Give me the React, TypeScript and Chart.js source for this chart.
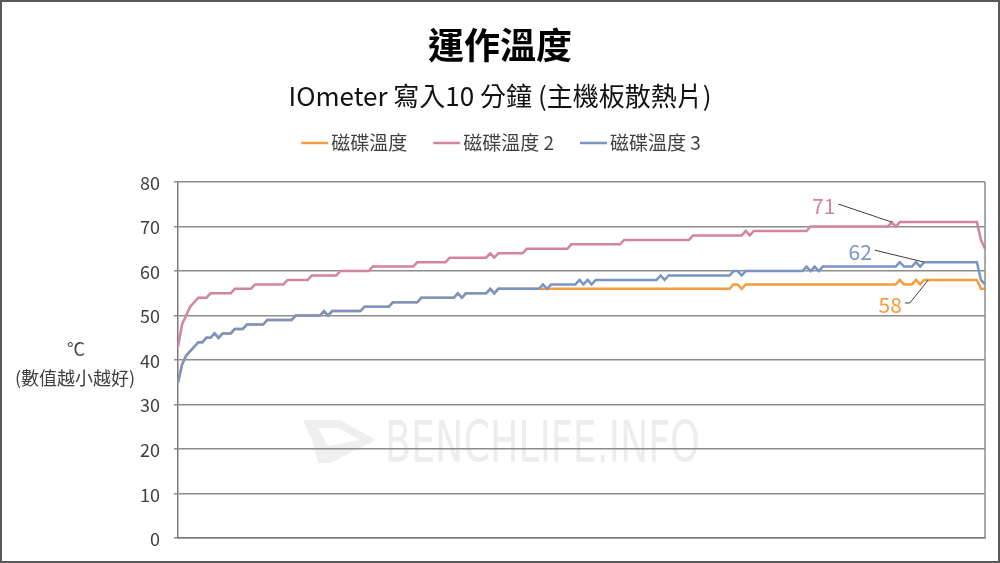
import React, { useEffect, useRef } from "react";
import { Chart, registerables } from "chart.js";

Chart.register(...registerables);

const TITLE = "運作溫度";
const SUBTITLE = "IOmeter 寫入10 分鐘 (主機板散熱片)";
const SERIES_NAMES = ["磁碟溫度", "磁碟溫度 2", "磁碟溫度 3"];
const SERIES_COLORS = ["#F79B3C", "#D4849C", "#7895C3"];
const Y_TITLE = ["°C", "(數值越小越好)"];
const Y_TICKS = [0, 10, 20, 30, 40, 50, 60, 70, 80];
const WATERMARK = "BENCHLIFE.INFO";

// 磁碟溫度 (orange)
const diskTemp1 = [
  35, 39, 41, 42, 43, 44, 44, 45, 45, 46,
  45, 46, 46, 46, 47, 47, 47, 48, 48, 48,
  48, 48, 49, 49, 49, 49, 49, 49, 49, 50,
  50, 50, 50, 50, 50, 50, 51, 50, 51, 51,
  51, 51, 51, 51, 51, 51, 52, 52, 52, 52,
  52, 52, 52, 53, 53, 53, 53, 53, 53, 53,
  54, 54, 54, 54, 54, 54, 54, 54, 54, 55,
  54, 55, 55, 55, 55, 55, 55, 56, 55, 56,
  56, 56, 56, 56, 56, 56, 56, 56, 56, 56,
  56, 56, 56, 56, 56, 56, 56, 56, 56, 56,
  56, 56, 56, 56, 56, 56, 56, 56, 56, 56,
  56, 56, 56, 56, 56, 56, 56, 56, 56, 56,
  56, 56, 56, 56, 56, 56, 56, 56, 56, 56,
  56, 56, 56, 56, 56, 56, 56, 57, 57, 56,
  57, 57, 57, 57, 57, 57, 57, 57, 57, 57,
  57, 57, 57, 57, 57, 57, 57, 57, 57, 57,
  57, 57, 57, 57, 57, 57, 57, 57, 57, 57,
  57, 57, 57, 57, 57, 57, 57, 57, 58, 57,
  57, 57, 58, 57, 58, 58, 58, 58, 58, 58,
  58, 58, 58, 58, 58, 58, 58, 58, 56, 56,
];

// 磁碟溫度 2 (pink)
const diskTemp2 = [
  43, 48, 50, 52, 53, 54, 54, 54, 55, 55,
  55, 55, 55, 55, 56, 56, 56, 56, 56, 57,
  57, 57, 57, 57, 57, 57, 57, 58, 58, 58,
  58, 58, 58, 59, 59, 59, 59, 59, 59, 59,
  60, 60, 60, 60, 60, 60, 60, 60, 61, 61,
  61, 61, 61, 61, 61, 61, 61, 61, 61, 62,
  62, 62, 62, 62, 62, 62, 62, 63, 63, 63,
  63, 63, 63, 63, 63, 63, 63, 64, 63, 64,
  64, 64, 64, 64, 64, 64, 65, 65, 65, 65,
  65, 65, 65, 65, 65, 65, 65, 66, 66, 66,
  66, 66, 66, 66, 66, 66, 66, 66, 66, 66,
  67, 67, 67, 67, 67, 67, 67, 67, 67, 67,
  67, 67, 67, 67, 67, 67, 67, 68, 68, 68,
  68, 68, 68, 68, 68, 68, 68, 68, 68, 68,
  69, 68, 69, 69, 69, 69, 69, 69, 69, 69,
  69, 69, 69, 69, 69, 69, 70, 70, 70, 70,
  70, 70, 70, 70, 70, 70, 70, 70, 70, 70,
  70, 70, 70, 70, 70, 70, 71, 70, 71, 71,
  71, 71, 71, 71, 71, 71, 71, 71, 71, 71,
  71, 71, 71, 71, 71, 71, 71, 71, 67, 65,
];

// 磁碟溫度 3 (blue)
const diskTemp3 = [
  35, 39, 41, 42, 43, 44, 44, 45, 45, 46,
  45, 46, 46, 46, 47, 47, 47, 48, 48, 48,
  48, 48, 49, 49, 49, 49, 49, 49, 49, 50,
  50, 50, 50, 50, 50, 50, 51, 50, 51, 51,
  51, 51, 51, 51, 51, 51, 52, 52, 52, 52,
  52, 52, 52, 53, 53, 53, 53, 53, 53, 53,
  54, 54, 54, 54, 54, 54, 54, 54, 54, 55,
  54, 55, 55, 55, 55, 55, 55, 56, 55, 56,
  56, 56, 56, 56, 56, 56, 56, 56, 56, 56,
  57, 56, 57, 57, 57, 57, 57, 57, 57, 58,
  57, 58, 57, 58, 58, 58, 58, 58, 58, 58,
  58, 58, 58, 58, 58, 58, 58, 58, 58, 59,
  58, 59, 59, 59, 59, 59, 59, 59, 59, 59,
  59, 59, 59, 59, 59, 59, 59, 60, 60, 59,
  60, 60, 60, 60, 60, 60, 60, 60, 60, 60,
  60, 60, 60, 60, 60, 61, 60, 61, 60, 61,
  61, 61, 61, 61, 61, 61, 61, 61, 61, 61,
  61, 61, 61, 61, 61, 61, 61, 61, 62, 61,
  61, 61, 62, 61, 62, 62, 62, 62, 62, 62,
  62, 62, 62, 62, 62, 62, 62, 62, 58, 57,
];

const sampleLabels = diskTemp1.map((_, i) => String(i + 1));

// callouts: series index, sample index, label text, label offset (px) from the point
const CALLOUT_SERIES = [1, 2, 0];
const CALLOUT_INDEX = [176, 184, 185];
const CALLOUT_TEXT = ["71", "62", "58"];
const CALLOUT_DX = [-68, -64, -38];
const CALLOUT_DY = [-17, -11, 24];

const FONT = "'Noto Sans CJK TC', 'Noto Sans', sans-serif";
const TEXT_COLOR = "#404040";

const decoPlugin = {
  id: "deco",
  beforeDraw(chart: any) {
    const { ctx, width, height } = chart;
    ctx.save();
    ctx.fillStyle = "#ffffff";
    ctx.fillRect(0, 0, width, height);

    // watermark logo
    ctx.fillStyle = "#efefef";
    ctx.beginPath();
    ctx.moveTo(303, 420);
    ctx.lineTo(340, 420);
    ctx.lineTo(376, 440);
    ctx.lineTo(330, 463);
    ctx.lineTo(318, 463);
    ctx.lineTo(312, 440);
    ctx.closePath();
    ctx.fill();
    ctx.fillStyle = "#ffffff";
    ctx.beginPath();
    ctx.moveTo(318, 428);
    ctx.lineTo(338, 428);
    ctx.lineTo(360, 440);
    ctx.lineTo(328, 446);
    ctx.closePath();
    ctx.fill();

    // watermark text
    ctx.fillStyle = "#ededed";
    ctx.font = "57px 'DejaVu Sans Condensed', 'DejaVu Sans', sans-serif";
    ctx.textAlign = "left";
    ctx.textBaseline = "alphabetic";
    const w = ctx.measureText(WATERMARK).width;
    ctx.translate(385, 462);
    ctx.scale(315 / w, 1);
    ctx.fillText(WATERMARK, 0, 0);
    ctx.restore();
  },
  afterDatasetsDraw(chart: any) {
    const { ctx } = chart;
    const xs = chart.scales.x;
    const ys = chart.scales.y;
    const seriesData = [diskTemp1, diskTemp2, diskTemp3];
    ctx.save();
    for (let k = 0; k < CALLOUT_TEXT.length; k++) {
      const s = CALLOUT_SERIES[k];
      const idx = CALLOUT_INDEX[k];
      const px = xs.getPixelForValue(idx);
      const py = ys.getPixelForValue(seriesData[s][idx]);
      const tx = px + CALLOUT_DX[k];
      const ty = py + CALLOUT_DY[k];
      ctx.font = `21px ${FONT}`;
      const tw = ctx.measureText(CALLOUT_TEXT[k]).width;
      // leader line
      ctx.strokeStyle = "#404040";
      ctx.lineWidth = 1;
      ctx.beginPath();
      const sx = tx + tw / 2 + 3;
      ctx.moveTo(sx, ty - 1);
      if (CALLOUT_DY[k] > 0) {
        ctx.lineTo(sx + 5, ty - 1);
      }
      ctx.lineTo(px, py);
      ctx.stroke();
      ctx.fillStyle = SERIES_COLORS[s];
      ctx.textAlign = "center";
      ctx.textBaseline = "middle";
      ctx.fillText(CALLOUT_TEXT[k], tx, ty + 1);
    }
    ctx.restore();
  },
  afterDraw(chart: any) {
    const { ctx, width, height, chartArea } = chart;
    ctx.save();
    // right frame of plot
    ctx.strokeStyle = "#8c8c8c";
    ctx.lineWidth = 1.5;
    ctx.beginPath();
    ctx.moveTo(chartArea.right, chartArea.top);
    ctx.lineTo(chartArea.right, chartArea.bottom);
    ctx.stroke();

    // title
    ctx.fillStyle = "#000000";
    ctx.textAlign = "center";
    ctx.textBaseline = "middle";
    ctx.font = `bold 36px ${FONT}`;
    ctx.fillText(TITLE, 500, 45);
    ctx.fillStyle = "#111111";
    ctx.font = `26px ${FONT}`;
    ctx.fillText(SUBTITLE, 500, 96);

    // legend
    ctx.font = `19px ${FONT}`;
    const lineLen = 27;
    const gapAfterLine = 3;
    const itemGap = 26;
    const widths = SERIES_NAMES.map((n) => ctx.measureText(n).width);
    const total =
      widths.reduce((a, b) => a + b + lineLen + gapAfterLine, 0) +
      itemGap * (SERIES_NAMES.length - 1);
    let x = 501 - total / 2;
    const ly = 143;
    ctx.textAlign = "left";
    for (let i = 0; i < SERIES_NAMES.length; i++) {
      ctx.strokeStyle = SERIES_COLORS[i];
      ctx.lineWidth = 2.5;
      ctx.beginPath();
      ctx.moveTo(x, ly);
      ctx.lineTo(x + lineLen, ly);
      ctx.stroke();
      ctx.fillStyle = TEXT_COLOR;
      ctx.fillText(SERIES_NAMES[i], x + lineLen + gapAfterLine, ly);
      x += lineLen + gapAfterLine + widths[i] + itemGap;
    }

    // y axis title
    ctx.textAlign = "center";
    ctx.font = `18px ${FONT}`;
    ctx.fillStyle = TEXT_COLOR;
    ctx.fillText(Y_TITLE[0], 76, 349);
    ctx.fillText(Y_TITLE[1], 75, 378);

    // outer frame
    ctx.strokeStyle = "#595959";
    ctx.lineWidth = 2;
    ctx.strokeRect(1, 1, width - 2, height - 2);
    ctx.restore();
  },
};

export default function App() {
  const canvasRef = useRef<HTMLCanvasElement>(null);

  useEffect(() => {
    document.body.style.margin = "0";
    const canvas = canvasRef.current;
    if (!canvas) return;
    const chart = new Chart(canvas, {
      type: "line",
      data: {
        labels: sampleLabels,
        datasets: [
          {
            label: SERIES_NAMES[2],
            data: diskTemp3,
            borderColor: SERIES_COLORS[2],
            backgroundColor: SERIES_COLORS[2],
            borderWidth: 2.5,
            pointRadius: 0,
            tension: 0,
            fill: false,
          },
          {
            label: SERIES_NAMES[1],
            data: diskTemp2,
            borderColor: SERIES_COLORS[1],
            backgroundColor: SERIES_COLORS[1],
            borderWidth: 2.5,
            pointRadius: 0,
            tension: 0,
            fill: false,
          },
          {
            label: SERIES_NAMES[0],
            data: diskTemp1,
            borderColor: SERIES_COLORS[0],
            backgroundColor: SERIES_COLORS[0],
            borderWidth: 2.5,
            pointRadius: 0,
            tension: 0,
            fill: false,
          },
        ],
      },
      plugins: [decoPlugin],
      options: {
        responsive: false,
        animation: false,
        devicePixelRatio: 1,
        layout: { padding: { top: 182, left: 0, right: 15, bottom: 22 } },
        plugins: {
          legend: { display: false },
          title: { display: false },
          tooltip: { enabled: false },
        },
        scales: {
          x: {
            type: "category",
            offset: false,
            ticks: { display: false },
            grid: { display: false, drawTicks: false, tickLength: 0 },
            border: { display: true, color: "#7a7a7a", width: 1.5 },
          },
          y: {
            min: 0,
            max: 80,
            afterFit: (s: any) => {
              s.width = 178;
            },
            afterBuildTicks: (s: any) => {
              s.ticks = Y_TICKS.map((v) => ({ value: v }));
            },
            ticks: {
              padding: 14,
              labelOffset: 1,
              color: TEXT_COLOR,
              font: { family: FONT, size: 18 },
            },
            grid: {
              color: "#8c8c8c",
              lineWidth: 1.5,
              drawTicks: true,
              tickLength: 4,
            },
            border: { display: true, color: "#7a7a7a", width: 1.5 },
          },
        },
      },
    });
    return () => chart.destroy();
  }, []);

  return (
    <div style={{ width: 1000, height: 563 }}>
      <canvas
        ref={canvasRef}
        width={1000}
        height={563}
        style={{ display: "block", width: 1000, height: 563 }}
      />
    </div>
  );
}
